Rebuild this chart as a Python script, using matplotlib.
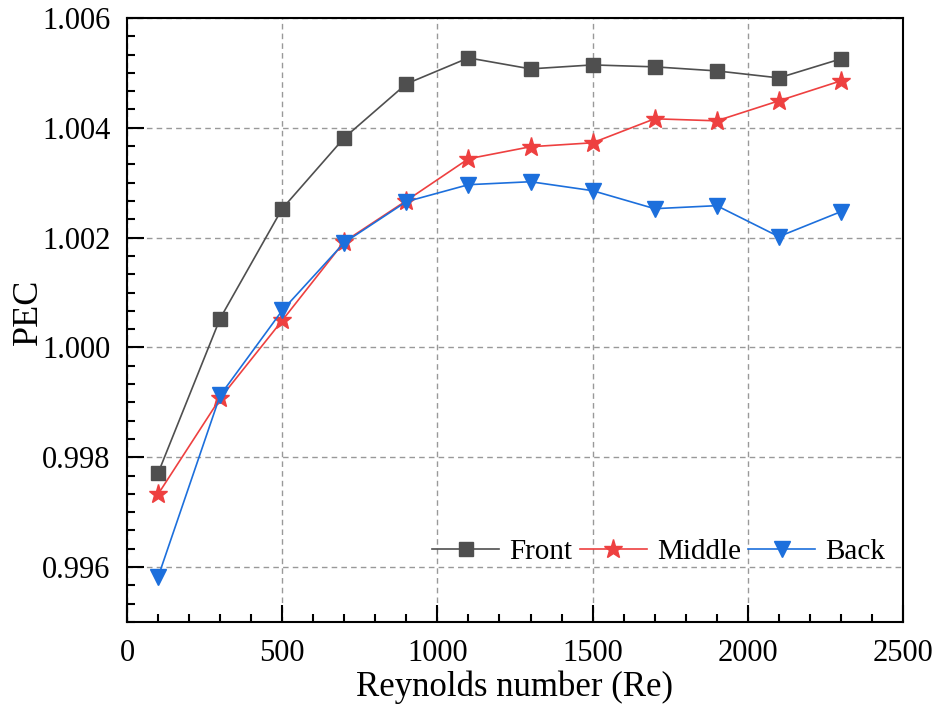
import matplotlib
matplotlib.use("Agg")
import matplotlib.pyplot as plt
from matplotlib.ticker import AutoMinorLocator, MultipleLocator

plt.rcParams['font.family'] = ['Liberation Serif', 'DejaVu Serif']
plt.rcParams['mathtext.fontset'] = 'stix'

re_values = [100, 300, 500, 700, 900, 1100, 1300, 1500, 1700, 1900, 2100, 2300]
front = [0.99771, 1.000527, 1.002527, 1.003818, 1.0048, 1.005273, 1.005073, 1.005145,
         1.00511, 1.005036, 1.004909, 1.005255]
middle = [0.997327, 0.999073, 1.000491, 1.001927, 1.002673, 1.003436, 1.003655, 1.003727,
          1.004164, 1.004127, 1.004491, 1.004855]
back = [0.995818, 0.999127, 1.000673, 1.001909, 1.002655, 1.002964, 1.003018, 1.002855,
        1.002527, 1.002582, 1.002018, 1.002473]

fig = plt.figure(figsize=(9.36, 7.13), dpi=100)
ax = fig.add_axes([0.1357, 0.1276, 0.829, 0.8472])

ax.plot(re_values, front, color='#4f4f4f', marker='s', markersize=10, lw=1.2, label='Front')
ax.plot(re_values, middle, color='#ee4040', marker='*', markersize=14, lw=1.2, label='Middle')
ax.plot(re_values, back, color='#1c6fdc', marker='v', markersize=12, lw=1.2, label='Back')

ax.set_xlim(0, 2500)
ax.set_ylim(0.995, 1.006)
ax.xaxis.set_major_locator(MultipleLocator(500))
ax.yaxis.set_major_locator(MultipleLocator(0.002))
ax.xaxis.set_minor_locator(AutoMinorLocator(5))
ax.yaxis.set_minor_locator(AutoMinorLocator(6))
ax.yaxis.set_major_formatter(matplotlib.ticker.FormatStrFormatter('%.3f'))

ax.grid(True, which='major', color='#999999', linestyle=(0, (4, 3)), lw=1.0)
ax.tick_params(which='both', direction='in', top=False, right=False, labelsize=22, width=1.5)
ax.tick_params(which='major', length=12, pad=12)
ax.tick_params(which='minor', length=6)
for s in ax.spines.values():
    s.set_linewidth(1.5)

ax.set_xlabel('Reynolds number (Re)', fontsize=25)
ax.set_ylabel('PEC', fontsize=26)
ax.xaxis.set_label_coords(0.5, -0.108, transform=ax.transAxes)
ax.xaxis.label.set_va('center')
ax.yaxis.set_label_coords(-0.127, 0.513, transform=ax.transAxes)
ax.yaxis.label.set_va('center')

ax.legend(loc='lower right', ncol=3, frameon=False, fontsize=21, handlelength=2.3,
          columnspacing=0.25, handletextpad=0.35, bbox_to_anchor=(1.0, 0.065), borderaxespad=0.2)

fig.savefig('out.png', dpi=100)
